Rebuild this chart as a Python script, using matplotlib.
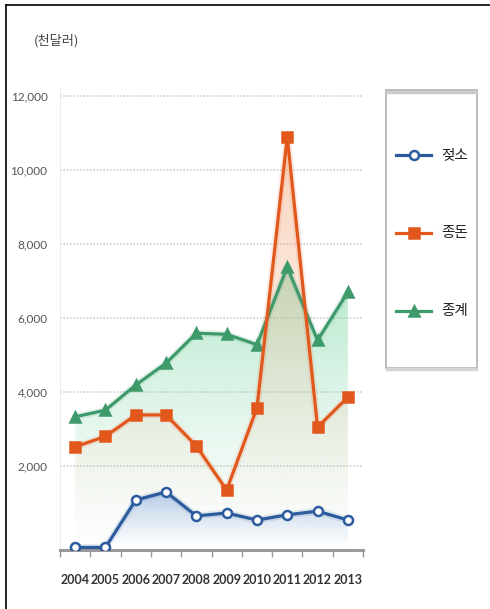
import matplotlib
matplotlib.use("Agg")
import matplotlib.pyplot as plt
import numpy as np
from matplotlib.patches import Polygon, Rectangle
from matplotlib.lines import Line2D
from matplotlib.colors import to_rgb

plt.rcParams['font.family'] = ['Noto Sans CJK KR', 'DejaVu Sans']
num_font = ['Lato', 'DejaVu Sans']

# 연도별 실적 (천달러)
years = [2004, 2005, 2006, 2007, 2008, 2009, 2010, 2011, 2012, 2013]
dairy = [-200, -200, 1080, 1300, 650, 730, 540, 680, 780, 540]          # 젖소
pig = [2520, 2800, 3380, 3380, 2540, 1350, 3570, 10900, 3050, 3860]     # 종돈
poultry = [3330, 3510, 4190, 4780, 5590, 5560, 5280, 7380, 5400, 6700]  # 종계

y_ticks = [2000, 4000, 6000, 8000, 10000, 12000]
unit_label = "(천달러)"

# 이름, 값, 선색, 채움색, 마커, 마커크기, 마커면색
series = [
    ("종계", poultry, "#3f9a6b", "#6fd19c", "^", 7.5, "#3f9a6b"),
    ("종돈", pig, "#e2571c", "#f6a77a", "s", 6.5, "#e2571c"),
    ("젖소", dairy, "#2d5c9e", "#7aa3dc", "o", 6.5, "white"),
]

fig = plt.figure(figsize=(4.9, 6.09), dpi=100)
W, H = 490, 609
ax = fig.add_axes([60 / W, 1 - 550 / H, 303 / W, 462 / H])
ymin, ymax = -270, 12216
ax.set_xlim(2003.5, 2013.5)
ax.set_ylim(ymin, ymax)


def gradient_fill(ax, x, y, color, zorder):
    # 선 아래 영역을 위에서 아래로 옅어지는 색으로 채움
    x = np.asarray(x, float)
    y = np.asarray(y, float)
    top = y.max()
    rgb = to_rgb(color)
    n = 256
    img = np.zeros((n, 1, 4))
    img[:, 0, :3] = rgb
    img[:, 0, 3] = np.linspace(0.6, 0.0, n) ** 1.3
    im = ax.imshow(img, aspect='auto', origin='upper',
                   extent=[x.min(), x.max(), ymin, top], zorder=zorder)
    verts = np.vstack([[x[0], ymin], np.column_stack([x, y]), [x[-1], ymin]])
    clip = Polygon(verts, closed=True, facecolor='none', edgecolor='none',
                   transform=ax.transData)
    ax.add_patch(clip)
    im.set_clip_path(clip)


for i, (name, vals, lc, fc, mk, ms, mfc) in enumerate(series):
    gradient_fill(ax, years, vals, fc, zorder=1 + i)

for i, (name, vals, lc, fc, mk, ms, mfc) in enumerate(series):
    # 은은한 번짐 효과
    ax.plot(years, vals, color=lc, lw=5, alpha=0.12, zorder=5 + i,
            solid_capstyle='round')
    ax.plot(years, vals, color=lc, lw=2.3, marker=mk, ms=ms,
            mfc=mfc, mec=lc, mew=1.8, zorder=6 + i)

# 격자선
for t in y_ticks:
    ax.axhline(t, color='#cfcfcf', lw=1.2, ls=(0, (1, 1)), zorder=0)

ax.set_yticks(y_ticks)
ax.set_yticklabels([f"{t:,}" for t in y_ticks], fontsize=8.5, color='#555555',
                   family=num_font)
ax.set_xticks(years)
ax.set_xticklabels([str(y) for y in years], fontsize=9, color='#333333',
                   family=num_font, fontweight='bold')
ax.set_xticks(np.arange(2003.5, 2014, 1), minor=True)
ax.tick_params(axis='x', which='major', length=0, pad=17)
ax.tick_params(axis='x', which='minor', length=5, color='#999999', width=1)
ax.tick_params(axis='y', length=0, pad=9)

for s in ['top', 'right']:
    ax.spines[s].set_visible(False)
ax.spines['left'].set_color('#eeeeee')
ax.spines['bottom'].set_color('#9a9a9a')
ax.spines['bottom'].set_linewidth(2.2)

fig.text(56 / W, 1 - 41 / H, unit_label, fontsize=9.5, color='#444444',
         ha='center', va='center')

# 범례 (직접 그림)
fig.add_artist(Rectangle((386 / W, 1 - 368 / H), 91 / W, 278 / H,
                         transform=fig.transFigure, facecolor='white',
                         edgecolor='#b0b0b0', lw=1.2))
fig.add_artist(Line2D([387 / W, 476 / W], [1 - 92 / H, 1 - 92 / H],
                      color='#cccccc', lw=2.5))
fig.add_artist(Line2D([387 / W, 476 / W], [1 - 369 / H, 1 - 369 / H],
                      color='#d5d5d5', lw=2.5))
legend_rows = {"젖소": 155, "종돈": 233, "종계": 311}
for name, vals, lc, fc, mk, ms, mfc in series:
    yy = 1 - legend_rows[name] / H
    fig.add_artist(Line2D([396 / W, 431 / W], [yy, yy], color=lc, lw=2.3))
    fig.add_artist(Line2D([413.5 / W], [yy], color=lc, marker=mk, ms=ms,
                          mfc=mfc, mec=lc, mew=1.8))
    fig.text(441 / W, yy, name, fontsize=10.5, color='#222222',
             ha='left', va='center')

# 바깥 테두리선
fig.add_artist(Line2D([6 / W, 6 / W], [0, 1 - 5 / H], color='black', lw=1.2))
fig.add_artist(Line2D([6 / W, 1], [1 - 5 / H, 1 - 5 / H], color='black', lw=1.2))

fig.savefig("out.png", dpi=100)
